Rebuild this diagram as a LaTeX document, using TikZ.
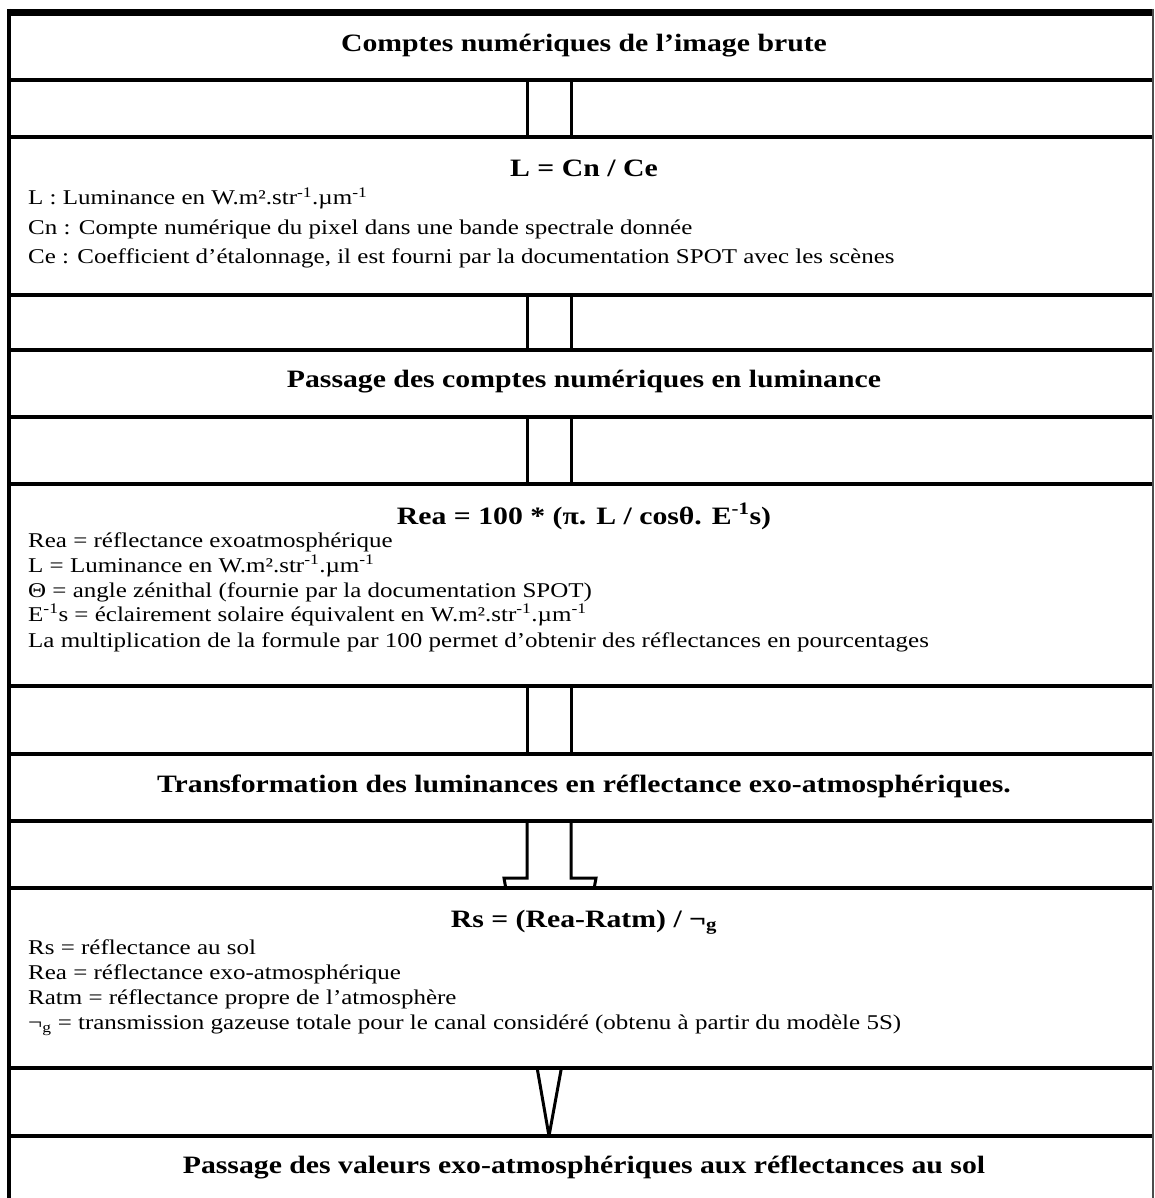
\documentclass[tikz,border=0pt]{standalone}
\usepackage{fontspec}
\setmainfont{Liberation Serif}[FakeStretch=1.19]
\usetikzlibrary{calc,backgrounds}
\newcommand\myinv{\textsuperscript{-1}}
\begin{document}
\begin{tikzpicture}[x=1pt,y=-1pt,
  contentrow/.style={rectangle, inner sep=0pt, outer sep=0pt, minimum width=1144pt, fill=white},
  gaprow/.style={rectangle, inner sep=0pt, outer sep=0pt, minimum width=1144pt},
  hline/.style={line width=4pt},
  shaft/.style={line width=3pt, line join=miter},
  ttl/.style={font=\fontsize{25}{30}\selectfont\bfseries, inner sep=0pt, anchor=base},
  txt/.style={font=\fontsize{21}{25}\selectfont, inner sep=0pt, anchor=base west}]
\useasboundingbox (0,0) rectangle (1154,1198);
% rows
\node[contentrow, minimum height=68pt]    (r1)  at (581,46.5)   {};
\node[gaprow, minimum height=57pt]    (r2)  at (581,109)    {};
\node[contentrow, minimum height=157.5pt] (r3)  at (581,216.25) {};
\node[gaprow, minimum height=55pt]    (r4)  at (581,322.5)  {};
\node[contentrow, minimum height=67pt]    (r5)  at (581,383.5)  {};
\node[gaprow, minimum height=67pt]    (r6)  at (581,450.5)  {};
\node[contentrow, minimum height=202pt]   (r7)  at (581,585)    {};
\node[gaprow, minimum height=68pt]    (r8)  at (581,720)    {};
\node[contentrow, minimum height=67pt]    (r9)  at (581,787.5)  {};
\node[gaprow, minimum height=67pt]    (r10) at (581,854.5)  {};
\node[contentrow, minimum height=180pt]   (r11) at (581,978)    {};
\node[gaprow, minimum height=68pt]    (r12) at (581,1102)   {};
\node[contentrow, minimum height=62pt]    (r13) at (581,1167)   {};
% white page and connectors (behind the boxes)
\begin{scope}[on background layer]
\fill[white] (0,0) rectangle (1154,1198);
\foreach \a/\b in {r1/r3,r3/r5,r5/r7,r7/r9}{
  \draw[shaft] ($(\a.south)+(-54,0)$) -- ($(\b.north)+(-54,0)$);
  \draw[shaft] ($(\a.south)+(-10,0)$) -- ($(\b.north)+(-10,0)$);
}
\coordinate (tip) at ($(r13.north)+(-32,0)$);
\draw[shaft] ($(r9.south)+(-54,0)$) -- ($(r11.north)+(-54,-10)$) -- ($(r11.north)+(-77,-10)$)
  -- (tip) -- ($(r11.north)+(15,-10)$) -- ($(r11.north)+(-10,-10)$) -- ($(r9.south)+(-10,0)$);
\end{scope}
% horizontal rules
\draw[line width=7pt] (r1.north west) -- (r1.north east);
\foreach \r in {r2,r3,r4,r5,r6,r7,r8,r9,r10,r11,r12,r13}{
  \draw[hline] (\r.north west) -- (\r.north east);
}
% outer borders
\draw[line width=4pt] ($(r1.north west)+(0,-3.5)$) -- (r13.south west);
\draw[line width=1.5pt, black!70] ($(r1.north east)+(0,-3.5)$) -- (r13.south east);
% texts
\node[ttl] (t1) at ($(r1.north)+(3,39)$) {Comptes numériques de l’image brute};
\node[ttl] (t3) at ($(r3.north)+(3,39.5)$) {L = Cn / Ce};
\node[txt] (l31) at (28,205) {L : Luminance en W.m².str\myinv.µm\myinv};
\node[txt] (l32) at (28,235) {Cn : Compte numérique du pixel dans une bande spectrale donnée};
\node[txt] (l33) at (28,263) {Ce : Coefficient d’étalonnage, il est fourni par la documentation SPOT avec les scènes};
\node[ttl] (t5) at ($(r5.north)+(3,37)$) {Passage des comptes numériques en luminance};
\node[ttl] (t7) at ($(r7.north)+(3,40)$) {Rea = 100 * (π. L / cosθ. E\myinv s)};
\node[txt] (l71) at (28,547) {Rea = réflectance exoatmosphérique};
\node[txt] (l72) at (28,572) {L = Luminance en W.m².str\myinv.µm\myinv};
\node[txt] (l73) at (28,597) {Θ = angle zénithal (fournie par la documentation SPOT)};
\node[txt] (l74) at (28,621) {E\myinv s = éclairement solaire équivalent en W.m².str\myinv.µm\myinv};
\node[txt] (l75) at (28,647) {La multiplication de la formule par 100 permet d’obtenir des réflectances en pourcentages};
\node[ttl] (t9) at ($(r9.north)+(3,38)$) {Transformation des luminances en réflectance exo-atmosphériques.};
\node[ttl] (t11) at ($(r11.north)+(3,39)$) {Rs = (Rea-Ratm) / ¬\textsubscript{g}};
\node[txt] (l111) at (28,954) {Rs = réflectance au sol};
\node[txt] (l112) at (28,979) {Rea = réflectance exo-atmosphérique};
\node[txt] (l113) at (28,1004) {Ratm = réflectance propre de l’atmosphère};
\node[txt] (l114) at (28,1029) {¬\textsubscript{g} = transmission gazeuse totale pour le canal considéré (obtenu à partir du modèle 5S)};
\node[ttl] (t13) at ($(r13.north)+(3,37)$) {Passage des valeurs exo-atmosphériques aux réflectances au sol};
\end{tikzpicture}
\end{document}
